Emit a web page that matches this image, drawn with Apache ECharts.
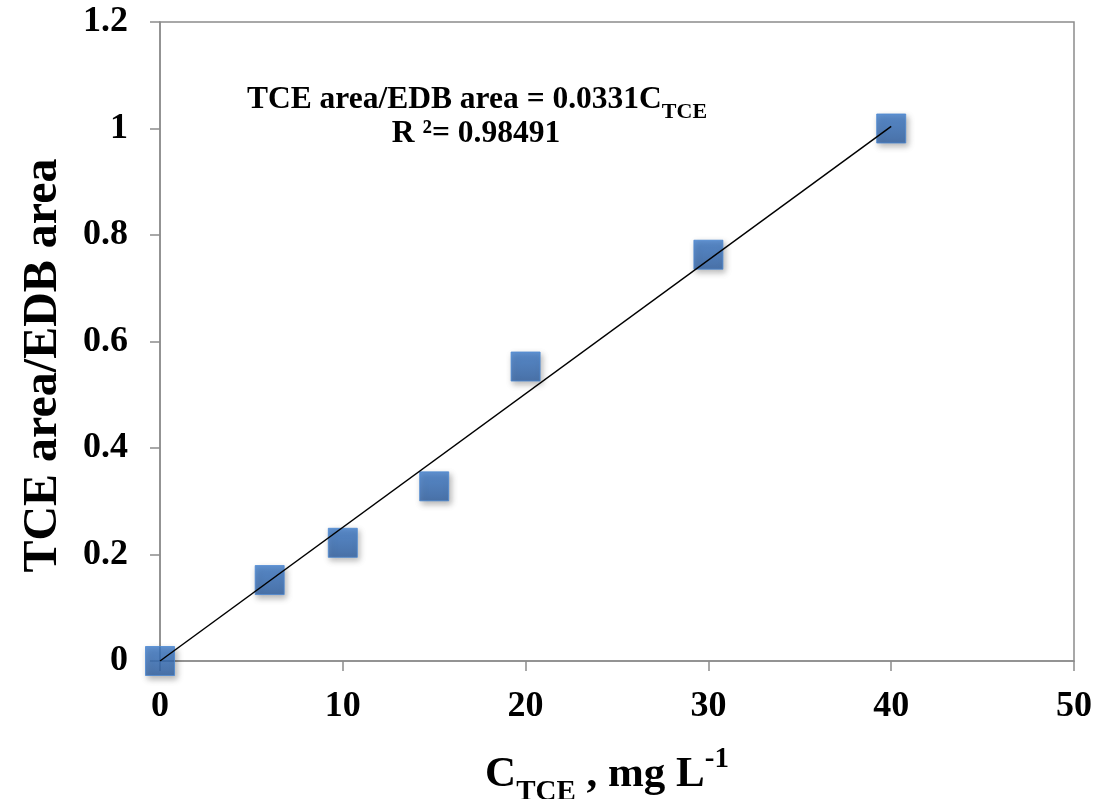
<!DOCTYPE html>
<html>
<head>
<meta charset="utf-8">
<script src="https://cdn.jsdelivr.net/npm/echarts@6/dist/echarts.min.js"></script>
<style>
  html, body { margin: 0; padding: 0; background: #fff; }
  #chart { width: 1105px; height: 799px; }
</style>
</head>
<body>
<div id="chart"></div>
<script>
// measured points, TCE concentration vs area ratio
var concTCE = [0, 6, 10, 15, 20, 30, 40];
var areaRatio = [0, 0.152, 0.222, 0.328, 0.553, 0.763, 1.0];
// trendline ends as drawn in the figure
var trendX = [0, 40];
var trendY = [0, 1.004];

var xTicks = [0, 10, 20, 30, 40, 50];
var yTicks = [0, 0.2, 0.4, 0.6, 0.8, 1, 1.2];

var serif = '"Liberation Serif", "Times New Roman", serif';
var frameColor = '#8c8c8c';

var chart = echarts.init(document.getElementById('chart'));

var pts = concTCE.map(function (x, i) { return [x, areaRatio[i]]; });
var trend = trendX.map(function (x, i) { return [x, trendY[i]]; });

var option = {
  animation: false,
  backgroundColor: '#fff',
  grid: {
    left: 160, right: 31, top: 22, bottom: 138,
    containLabel: false,
    outerBoundsMode: 'none',
    show: true, borderColor: frameColor, borderWidth: 1.5
  },
  xAxis: {
    type: 'value',
    min: xTicks[0], max: xTicks[xTicks.length - 1], interval: 10,
    axisLine: { show: true, lineStyle: { color: frameColor, width: 1.5 } },
    axisTick: { show: true, inside: false, length: 10, lineStyle: { color: frameColor, width: 1.5 } },
    splitLine: { show: false },
    axisLabel: { margin: 28, color: '#000', fontFamily: serif, fontWeight: 'bold', fontSize: 36 },
    name: '{m|C}{s|TCE}{m| , mg L}{p|-1}',
    nameLocation: 'middle',
    nameGap: 88,
    nameTextStyle: {
      padding: [0, 20, 0, 0],
      rich: {
        m: { fontFamily: serif, fontWeight: 'bold', fontSize: 43, color: '#000', verticalAlign: 'middle', lineHeight: 52 },
        s: { fontFamily: serif, fontWeight: 'bold', fontSize: 29, color: '#000', verticalAlign: 'bottom', lineHeight: 52, padding: [0, 0, -6, 0] },
        p: { fontFamily: serif, fontWeight: 'bold', fontSize: 29, color: '#000', verticalAlign: 'top', lineHeight: 52, padding: [-4, 0, 0, 0] }
      }
    }
  },
  yAxis: {
    type: 'value',
    min: yTicks[0], max: yTicks[yTicks.length - 1], interval: 0.2,
    axisLine: { show: true, lineStyle: { color: frameColor, width: 1.5 } },
    axisTick: { show: true, inside: false, length: 10, lineStyle: { color: frameColor, width: 1.5 } },
    splitLine: { show: false },
    axisLabel: {
      margin: 32, color: '#000', fontFamily: serif, fontWeight: 'bold', fontSize: 36,
      formatter: function (v) { return String(Math.round(v * 10) / 10); }
    },
    name: 'TCE area/EDB area',
    nameLocation: 'middle',
    nameGap: 92,
    nameTextStyle: { fontFamily: serif, fontWeight: 'bold', fontSize: 48, color: '#000', padding: [0, 48, 0, 0] }
  },
  graphic: [
    {
      type: 'text', x: 477, y: 100,
      style: {
        text: '{m|TCE area/EDB area = 0.0331C}{s|TCE}',
        align: 'center', verticalAlign: 'middle',
        rich: {
          m: { fontFamily: serif, fontWeight: 'bold', fontSize: 31.5, fill: '#000', verticalAlign: 'middle', lineHeight: 38 },
          s: { fontFamily: serif, fontWeight: 'bold', fontSize: 22, fill: '#000', verticalAlign: 'bottom', lineHeight: 38, padding: [0, 0, -4, 0] }
        }
      }
    },
    {
      type: 'text', x: 476, y: 134,
      style: {
        text: 'R \u00b2= 0.98491',
        align: 'center', verticalAlign: 'middle',
        fontFamily: serif, fontWeight: 'bold', fontSize: 31.5, fill: '#000'
      }
    }
  ],
  series: [
    {
      type: 'line',
      data: trend,
      showSymbol: false,
      symbol: 'none',
      lineStyle: { color: '#000', width: 1.5 },
      z: 3
    },
    {
      type: 'scatter',
      data: pts,
      symbol: 'rect',
      symbolSize: 29,
      itemStyle: {
        color: new echarts.graphic.LinearGradient(0, 0, 0, 1, [
          { offset: 0, color: '#3d7ccc' },
          { offset: 1, color: '#2d5fa3' }
        ]),
        borderColor: '#4c88d2',
        borderWidth: 1,
        shadowBlur: 6,
        shadowColor: 'rgba(0,0,0,0.35)',
        shadowOffsetX: 2,
        shadowOffsetY: 3
      },
      z: 2
    }
  ]
};

chart.setOption(option);
window.addEventListener('resize', function () {
  chart.resize();
});
</script>
</body>
</html>
